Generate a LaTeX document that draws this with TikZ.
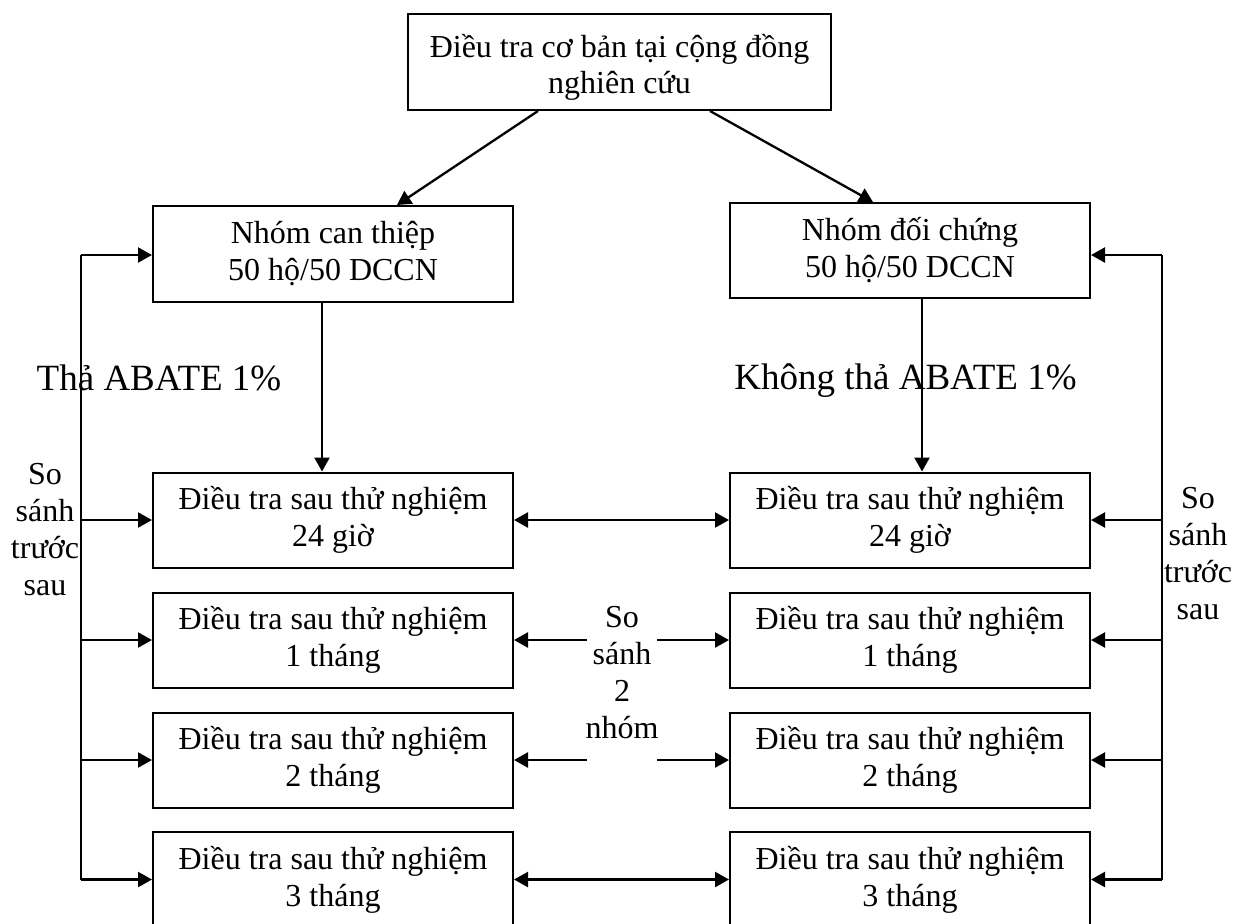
\documentclass[tikz,border=0pt]{standalone}
\usepackage{fontspec}
\setmainfont{Liberation Serif}
\usetikzlibrary{arrows.meta,calc}

\begin{document}
\begin{tikzpicture}[x=0.5pt,y=-0.5pt,
  box/.style={draw,line width=1pt,inner sep=0pt,minimum width=180pt,minimum height=47.5pt,
    align=center,font=\fontsize{16}{18.5}\selectfont},
  lbl/.style={inner sep=0pt,align=center,font=\fontsize{16}{18.5}\selectfont},
  big/.style={inner sep=0pt,font=\fontsize{18.5}{22}\selectfont},
  tip/.tip={Triangle[length=7pt,width=7.5pt]},
  link/.style={line width=1.15pt,-tip},
  both/.style={line width=1.15pt,tip-tip},
  rail/.style={line width=1.15pt}]
\useasboundingbox (0,0) rectangle (1235,923);

% survey boxes
\node[box,minimum width=211.5pt,minimum height=48pt] (top) at (619.5,62) {};
\node[lbl,font=\fontsize{16}{18}\selectfont] (toptext) at ([yshift=-2.5pt]top.center)
  {Điều tra cơ bản tại cộng đồng\\nghiên cứu};
\node[box,minimum height=48pt] (lg) at (333,254) {Nhóm can thiệp\\50 hộ/50 DCCN};
\node[box,minimum height=47.5pt] (rg) at (910,250.5) {Nhóm đối chứng\\50 hộ/50 DCCN};

\node[box] (l1) at (333,520) {Điều tra sau thử nghiệm\\24 giờ};
\node[box] (r1) at (910,520) {Điều tra sau thử nghiệm\\24 giờ};
\node[box] (l2) at (333,640) {Điều tra sau thử nghiệm\\1 tháng};
\node[box] (r2) at (910,640) {Điều tra sau thử nghiệm\\1 tháng};
\node[box] (l3) at (333,760) {Điều tra sau thử nghiệm\\2 tháng};
\node[box] (r3) at (910,760) {Điều tra sau thử nghiệm\\2 tháng};
\node[box] (l4) at (333,879.5) {Điều tra sau thử nghiệm\\3 tháng};
\node[box] (r4) at (910,879.5) {Điều tra sau thử nghiệm\\3 tháng};

% labels
\node[big,anchor=base] (tl) at (159,390) {Thả ABATE 1\%};
\node[big,anchor=base] (tr) at (905.5,389) {Không thả ABATE 1\%};
\node[lbl] (sl) at (45,530) {So\\sánh\\trước\\sau};
\node[lbl] (sr) at (1198,554) {So\\sánh\\trước\\sau};
\node[lbl] (sm) at (622,673) {So\\sánh\\2\\nhóm};

% split from the baseline survey
\draw[link] ([xshift=-40.75pt]top.south) -- ([xshift=32pt]lg.north);
\draw[link] ([xshift=45.25pt]top.south) -- ([xshift=-18.5pt]rg.north);
\draw[link] ([xshift=-5.5pt]lg.south) -- ([xshift=-5.5pt]l1.north);
\draw[link] ([xshift=6pt]rg.south) -- ([xshift=6pt]r1.north);

% before/after comparison rails
\coordinate (lt) at (81,255);
\coordinate (lb) at (81,879.5);
\coordinate (rt) at (1162,255);
\coordinate (rb) at (1162,879.5);
\draw[rail] (lb) -- (lt);
\draw[rail] (rb) -- (rt);
\draw[link] (lt) -- (lt -| lg.west);
\draw[link] (rt) -- (rt -| rg.east);
\foreach \n in {l1,l2,l3,l4} \draw[link] (lt |- \n) -- (\n.west);
\foreach \n in {r1,r2,r3,r4} \draw[link] (rt |- \n) -- (\n.east);

% between-group comparison
\coordinate (ma) at (587,0);
\coordinate (mb) at (657,0);
\draw[both] (l1.east) -- (r1.west);
\draw[link] (ma |- l2) -- (l2.east);
\draw[link] (mb |- r2) -- (r2.west);
\draw[link] (ma |- l3) -- (l3.east);
\draw[link] (mb |- r3) -- (r3.west);
\draw[both] (l4.east) -- (r4.west);
\end{tikzpicture}
\end{document}
